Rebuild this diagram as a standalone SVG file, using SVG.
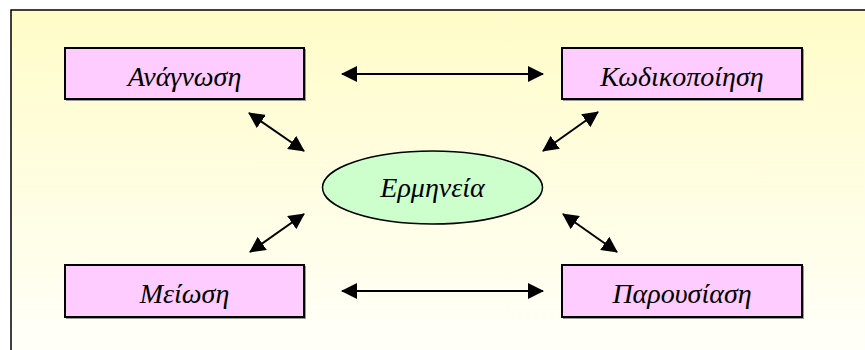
<svg xmlns="http://www.w3.org/2000/svg" width="865" height="350" viewBox="0 0 865 350">
  <defs>
    <linearGradient id="bg" x1="0" y1="0" x2="0" y2="1">
      <stop offset="0" stop-color="#FFFCC8"/>
      <stop offset="1" stop-color="#FFFFFA"/>
    </linearGradient>
    <marker id="ah" viewBox="0 0 16 16" refX="15" refY="8" markerWidth="16" markerHeight="16" markerUnits="userSpaceOnUse" orient="auto-start-reverse">
      <path d="M0,0 L16,8 L0,16 Z" fill="#000"/>
    </marker>
    <style>
      .box { fill: #FFCCFF; stroke: #000; stroke-width: 2; }
      .shadow { fill: #999; }
      .ell { fill: #CCFFCC; stroke: #000; stroke-width: 1.5; }
      .lbl { font-family: "Liberation Serif", "Times New Roman", serif; font-style: italic; font-size: 28px; fill: #000; text-anchor: middle; }
      .conn line { stroke: #000; stroke-width: 2; marker-start: url(#ah); marker-end: url(#ah); }
    </style>
  </defs>
  <rect x="0" y="0" width="865" height="350" fill="#FFFFFF"/>
  <rect x="11" y="10" width="870" height="350" fill="url(#bg)" stroke="#000" stroke-width="1.5"/>

  <g id="anagnosi">
    <rect class="shadow" x="66" y="49" width="240" height="52"/>
    <rect class="box" x="65" y="48" width="239" height="51"/>
    <text class="lbl" x="184.5" y="86">Ανάγνωση</text>
  </g>
  <g id="kodikopoiisi">
    <rect class="shadow" x="563" y="49" width="241" height="52"/>
    <rect class="box" x="562" y="48" width="240" height="51"/>
    <text class="lbl" x="682" y="86">Κωδικοποίηση</text>
  </g>
  <g id="meiosi">
    <rect class="shadow" x="66" y="266" width="240" height="53"/>
    <rect class="box" x="65" y="265" width="239" height="52"/>
    <text class="lbl" x="184.5" y="303">Μείωση</text>
  </g>
  <g id="parousiasi">
    <rect class="shadow" x="563" y="266" width="241" height="53"/>
    <rect class="box" x="562" y="265" width="240" height="52"/>
    <text class="lbl" x="682" y="303">Παρουσίαση</text>
  </g>
  <g id="ermineia">
    <ellipse class="ell" cx="432.5" cy="187.5" rx="110" ry="36.5"/>
    <text class="lbl" x="432.5" y="197">Ερμηνεία</text>
  </g>

  <g id="connectors" class="conn">
    <line x1="342" y1="74" x2="543" y2="74"/>
    <line x1="342" y1="291" x2="543" y2="291"/>
    <line x1="249" y1="113" x2="304" y2="151"/>
    <line x1="598" y1="112" x2="543" y2="151"/>
    <line x1="304" y1="214" x2="250" y2="252"/>
    <line x1="563" y1="214" x2="617" y2="252"/>
  </g>
</svg>
